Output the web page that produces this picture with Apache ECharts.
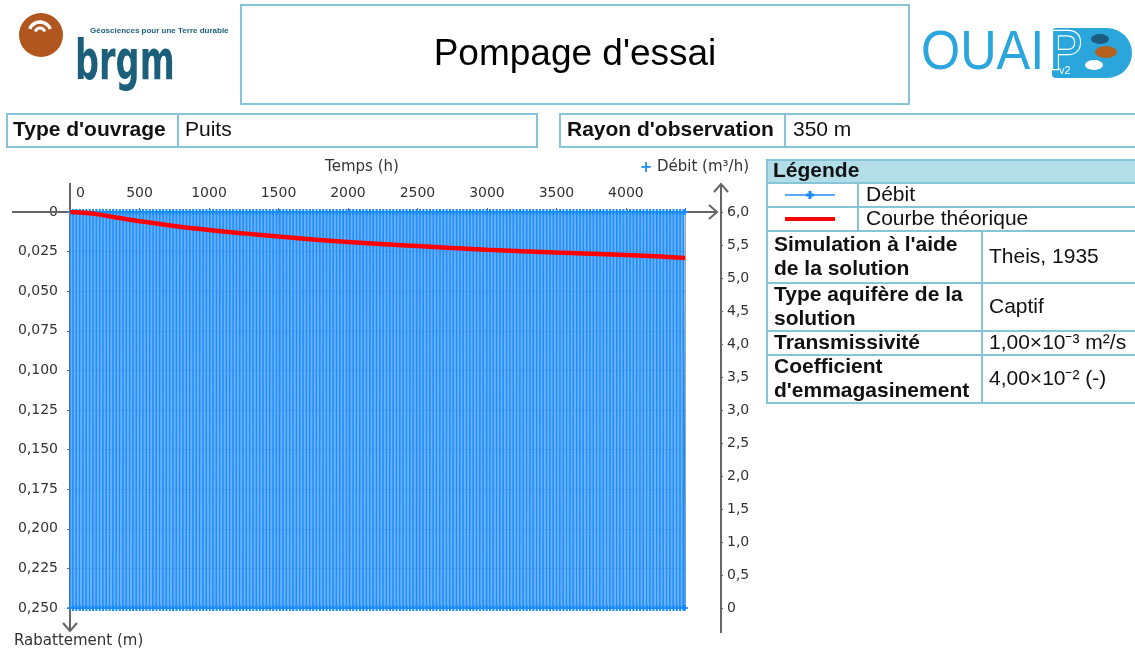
<!DOCTYPE html>
<html><head><meta charset="utf-8">
<script src="https://cdn.jsdelivr.net/npm/echarts@6/dist/echarts.min.js"></script>
<style>html,body{margin:0;padding:0;background:#fff}#c{width:1135px;height:653px}</style>
</head><body><div id="c"></div>
<script>
// ---------- DATA ----------
// Time axis (h)
const timeMaxH = 4425;
const timeTickStepH = 500;
// Theoretical curve (Theis) : time (h) and drawdown (m)
const theoTimeH =      [0, 100, 200, 300, 500, 750, 1000, 1250, 1500, 1750, 2000, 2500, 3000, 3500, 4000, 4425];
const theoDrawdownM =  [0, 0.0004, 0.0015, 0.0030, 0.0058, 0.0088, 0.0113, 0.0135, 0.0155, 0.0173, 0.0190, 0.0215, 0.0238, 0.0256, 0.0272, 0.0290];
// Pumping rate (m3/h): daily on/off pumping cycles over the whole test
const debitRateOn = 6.0;
const debitRateOff = 0;
const debitCycleH = 24;
const debitOnH = 20;
const debitEndH = 4425;
// Axes ranges
const drawdownMax = 0.25, drawdownStep = 0.025;
const debitMax = 6.0, debitStep = 0.5;
// Info table
const infoRows = [
  ["Simulation à l'aide\nde la solution", "Theis, 1935"],
  ["Type aquifère de la\nsolution", "Captif"],
  ["Transmissivité", "1,00×10⁻³ m²/s"],
  ["Coefficient\nd'emmagasinement", "4,00×10⁻² (-)"]
];

// ---------- BUILD ----------
const debitData = [];
for (let t = 0; t < debitEndH; t += debitCycleH) {
  const tOff = Math.min(t + debitOnH, debitEndH);
  debitData.push([t, debitRateOff], [t, debitRateOn], [tOff, debitRateOn], [tOff, debitRateOff]);
}
const theoData = theoTimeH.map((t, i) => [t, theoDrawdownM[i]]);

const AX = '#666';
const BORDER = '#86c5d8';
const TF = 'Liberation Sans, Arial, sans-serif';
const AF = 'DejaVu Sans, Verdana, sans-serif';
const plusPath = 'path://M3,0h2v3h3v2h-3v3h-2v-3h-3v-2h3z';

const chart = echarts.init(document.getElementById('c'), null, {renderer: 'canvas'});

const option = {
  animation: false,
  backgroundColor: '#fff',
  grid: {left: 70, top: 212, width: 615, height: 396, containLabel: false},
  xAxis: {
    type: 'value', position: 'top', min: 0, max: timeMaxH, interval: timeTickStepH,
    axisLine: {show: false},
    axisTick: {show: true, length: 4, lineStyle: {color: AX}},
    axisLabel: {fontFamily: AF, fontSize: 14, color: '#333', margin: 12,
      formatter: v => (v === 0 ? '{z|0}' : (v % timeTickStepH === 0 ? String(v) : '')),
      rich: {z: {fontFamily: AF, fontSize: 14, color: '#333', padding: [0, 0, 0, 6]}},
      alignMinLabel: 'left'},
    splitLine: {show: true, lineStyle: {color: 'rgba(60,60,60,0.45)', width: 1}}
  },
  yAxis: [{
    type: 'value', position: 'left', inverse: true, min: 0, max: drawdownMax, interval: drawdownStep,
    axisLine: {show: false},
    axisTick: {show: true, length: 3, lineStyle: {color: AX}},
    axisLabel: {fontFamily: AF, fontSize: 14, color: '#333', margin: 12,
      formatter: v => (v === 0 ? '0' : v.toFixed(3).replace('.', ','))},
    splitLine: {show: true, lineStyle: {color: 'rgba(60,60,60,0.45)', width: 1}}
  }, {
    type: 'value', position: 'right', offset: 36, min: 0, max: debitMax, interval: debitStep,
    axisLine: {show: false},
    axisTick: {show: true, length: 2, inside: false, lineStyle: {color: AX}},
    axisLabel: {fontFamily: AF, fontSize: 14, color: '#333', margin: 6,
      formatter: v => (v === 0 ? '0' : v.toFixed(1).replace('.', ','))},
    splitLine: {show: false}
  }],
  series: [{
    name: 'Débit', type: 'line', yAxisIndex: 1, data: debitData,
    symbol: plusPath, symbolSize: 6, showSymbol: true,
    itemStyle: {color: '#1a8cff'},
    lineStyle: {color: '#1a8cff', width: 1},
    areaStyle: {color: '#4fa3ff', opacity: 0.85},
    z: 2, silent: true
  }, {
    name: 'Courbe théorique', type: 'line', yAxisIndex: 0, data: theoData,
    smooth: true, symbol: 'none',
    lineStyle: {color: '#ff0000', width: 4.5},
    z: 3, silent: true
  }]
};
chart.setOption(option);

// ---------- DECORATIONS (axes, header, tables) ----------
const p0 = chart.convertToPixel({xAxisIndex: 0, yAxisIndex: 0}, [0, 0]);
const p1 = chart.convertToPixel({xAxisIndex: 0, yAxisIndex: 0}, [timeMaxH, drawdownMax]);
const x0 = p0[0], y0 = p0[1], x1 = p1[0], y1 = p1[1];
const xr = x1 + 36;

const g = [];
function line(pts, color, w, z) {
  g.push({type: 'polyline', z: z || 1, silent: true, shape: {points: pts},
    style: {stroke: color, lineWidth: w, fill: null}});
}
function rect(x, y, w, h, fill, z) {
  g.push({type: 'rect', z: z || 1, silent: true, shape: {x, y, width: w, height: h},
    style: {fill: fill || null, stroke: BORDER, lineWidth: 2}});
}
function txt(x, y, s, o) {
  o = o || {};
  g.push({type: 'text', z: o.z || 5, silent: true, x, y, scaleX: o.sx || 1, scaleY: o.sy || 1,
    style: {text: s, fill: o.color || '#111', font: (o.weight || 'normal') + ' ' + (o.size || 21) + 'px ' + (o.family || TF),
      textAlign: o.align || 'left', textVerticalAlign: 'middle', lineHeight: o.lh || 24,
      stroke: o.stroke || null, lineWidth: o.sw || 0}});
}
function blob(cx, cy, rx, ry, color, z) {
  g.push({type: 'circle', z: z || 5, silent: true, x: cx, y: cy, scaleX: 1, scaleY: ry / rx,
    shape: {cx: 0, cy: 0, r: rx}, style: {fill: color}});
}

// axes lines & arrows
line([[12, y0], [x1 + 32, y0]], AX, 2, 0);
line([[x1 + 24, y0 - 7], [x1 + 32, y0], [x1 + 24, y0 + 7]], AX, 2, 0);
line([[x0, 183], [x0, y1 + 23]], AX, 2, 0);
line([[x0 - 7, y1 + 15], [x0, y1 + 23], [x0 + 7, y1 + 15]], AX, 2, 0);
line([[xr, 184], [xr, y1 + 25]], AX, 2, 0);
line([[xr - 7, 192], [xr, 184], [xr + 7, 192]], AX, 2, 0);

// axis titles
txt(362, 167, 'Temps (h)', {family: AF, size: 15, color: '#333', align: 'center'});
txt(646, 168, '+', {family: AF, size: 15, color: '#1a8cff', align: 'center', weight: 'bold'});
txt(657, 167, 'Débit (m³/h)', {family: AF, size: 15, color: '#333'});
txt(14, 641, 'Rabattement (m)', {family: AF, size: 15, color: '#333'});

// title box
rect(241, 5, 668, 99);
txt(575, 55, "Pompage d'essai", {size: 37, color: '#000', align: 'center'});

// row 2
rect(7, 114, 171, 33); rect(178, 114, 359, 33);
rect(560, 114, 225, 33); rect(785, 114, 360, 33);
txt(13, 130, "Type d'ouvrage", {weight: 'bold'});
txt(185, 130, 'Puits');
txt(567, 130, "Rayon d'observation", {weight: 'bold'});
txt(793, 130, '350 m');

// legend table
rect(767, 160, 380, 23, '#b3dde7');
txt(773, 171, 'Légende', {weight: 'bold'});
rect(767, 183, 91, 24); rect(858, 183, 290, 24);
rect(767, 207, 91, 24); rect(858, 207, 290, 24);
line([[785, 195], [835, 195]], '#5aa8ff', 2, 4);
g.push({type: 'polygon', z: 5, silent: true,
  shape: {points: [[808.5,191],[811.5,191],[811.5,193.5],[814,193.5],[814,196.5],[811.5,196.5],[811.5,199],[808.5,199],[808.5,196.5],[806,196.5],[806,193.5],[808.5,193.5]]},
  style: {fill: '#1a8cff'}});
line([[785, 219], [835, 219]], '#ff0000', 4, 4);
txt(866, 195, 'Débit');
txt(866, 219, 'Courbe théorique');

// info table
const rowH = [52, 48, 24, 48];
let yy = 231;
infoRows.forEach((r, i) => {
  rect(767, yy, 215, rowH[i]); rect(982, yy, 170, rowH[i]);
  txt(774, yy + rowH[i] / 2, r[0], {weight: 'bold', lh: 24});
  txt(989, yy + rowH[i] / 2, r[1]);
  yy += rowH[i];
});

// brgm logo
g.push({type: 'circle', z: 3, silent: true, shape: {cx: 41, cy: 35, r: 22}, style: {fill: '#b0561e'}});
g.push({type: 'arc', z: 4, silent: true, shape: {cx: 40, cy: 33, r: 11, startAngle: Math.PI * 1.12, endAngle: Math.PI * 1.88}, style: {stroke: '#fff', lineWidth: 3.5, fill: null}});
g.push({type: 'arc', z: 4, silent: true, shape: {cx: 40, cy: 33, r: 5, startAngle: Math.PI * 1.1, endAngle: Math.PI * 1.9}, style: {stroke: '#fff', lineWidth: 3, fill: null}});
txt(75, 64, 'brgm', {size: 56, weight: 'bold', color: '#1c5f7b', family: 'DejaVu Sans, sans-serif', sx: 0.6});
txt(90, 31, 'Géosciences pour une Terre durable', {size: 8, weight: 'bold', color: '#1c5f7b', family: 'Liberation Sans Narrow, Liberation Sans, sans-serif', sx: 1.0});

// OUAIP logo
g.push({type: 'rect', z: 3, silent: true, shape: {x: 1052, y: 28, width: 80, height: 50, r: [4, 25, 25, 4]}, style: {fill: '#2aa6dc'}});
txt(921, 54, 'OUAI', {size: 56, color: '#2aa6dc', family: TF, sx: 0.9});
txt(1049, 54, 'P', {size: 56, color: '#2aa6dc', family: TF, sx: 0.9, stroke: '#fff', sw: 2.5, z: 6});
txt(1059, 71, 'v2', {size: 11, color: '#fff', family: TF, z: 7});
blob(1100, 39, 9, 5, '#1d5b80');
blob(1106, 52, 11, 6, '#b5601e');
blob(1094, 65, 9, 5, '#ffffff');

chart.setOption({graphic: {elements: g}});
</script>
</body></html>
